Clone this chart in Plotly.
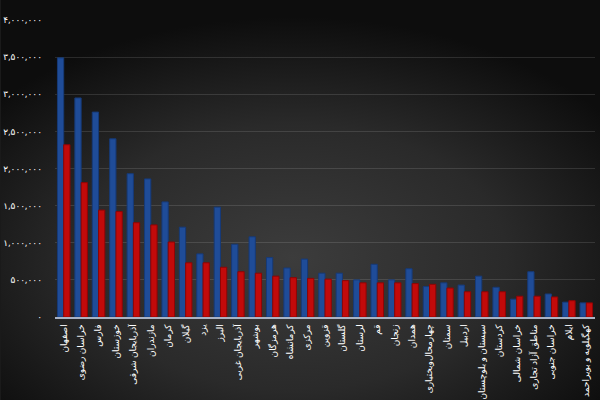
import base64
import plotly.graph_objects as go

categories = ["اصفهان", "خراسان رضوی", "فارس", "خوزستان", "آذربایجان شرقی", "مازندران",
              "کرمان", "گیلان", "یزد", "البرز", "آذربایجان غربی", "بوشهر", "هرمزگان",
              "کرمانشاه", "مرکزی", "قزوین", "گلستان", "لرستان", "قم", "زنجان", "همدان",
              "چهارمحال‌وبختیاری", "سمنان", "اردبیل", "سیستان و بلوچستان", "کردستان",
              "خراسان شمالی", "مناطق آزاد تجاری", "خراسان جنوبی", "ایلام", "کهگیلویه و بویراحمد"]

blue_values = [3490000, 2950000, 2760000, 2400000, 1930000, 1860000, 1550000, 1210000,
               850000, 1480000, 980000, 1080000, 800000, 660000, 780000, 590000, 590000,
               500000, 710000, 500000, 650000, 410000, 460000, 430000, 550000, 400000,
               240000, 610000, 310000, 200000, 190000]

red_values = [2320000, 1810000, 1440000, 1420000, 1270000, 1240000, 1010000, 730000,
              730000, 670000, 610000, 590000, 550000, 530000, 520000, 510000, 490000,
              460000, 460000, 460000, 450000, 440000, 390000, 340000, 340000, 340000,
              280000, 280000, 270000, 220000, 190000]

tick_vals = [0, 500000, 1000000, 1500000, 2000000, 2500000, 3000000, 3500000, 4000000]
tick_text = ["۰", "۵۰۰,۰۰۰", "۱,۰۰۰,۰۰۰", "۱,۵۰۰,۰۰۰", "۲,۰۰۰,۰۰۰", "۲,۵۰۰,۰۰۰",
             "۳,۰۰۰,۰۰۰", "۳,۵۰۰,۰۰۰", "۴,۰۰۰,۰۰۰"]

svg = """<svg xmlns='http://www.w3.org/2000/svg' width='600' height='400' preserveAspectRatio='none'>
<defs>
<radialGradient id='g' cx='0.45' cy='0.6' r='0.6' gradientTransform='translate(0.45 0.6) scale(1 0.9) translate(-0.45 -0.6)'>
<stop offset='0' stop-color='#3c3c3c'/>
<stop offset='0.55' stop-color='#2a2a2a'/>
<stop offset='1' stop-color='#0d0d0d'/>
</radialGradient>
</defs>
<rect width='600' height='400' fill='url(#g)'/>
</svg>"""
src = "data:image/svg+xml;base64," + base64.b64encode(svg.encode()).decode()

fig = go.Figure()
fig.add_trace(go.Bar(x=categories, y=blue_values, name="blue",
                     marker=dict(color="#1f4c98", line=dict(color="#163a78", width=1))))
fig.add_trace(go.Bar(x=categories, y=red_values, name="red",
                     marker=dict(color="#c20a0a", line=dict(color="#8e0505", width=1))))

fig.update_layout(
    width=600, height=400,
    margin=dict(l=55, r=5, t=20, b=83),
    paper_bgcolor="#1a1a1a",
    plot_bgcolor="rgba(0,0,0,0)",
    barmode="group", bargap=0.28, bargroupgap=0.0,
    showlegend=False,
    font=dict(family="Noto Sans, DejaVu Sans", color="white"),
    images=[dict(source=src, xref="paper", yref="paper", x=-0.1, y=1.1,
                 sizex=1.2, sizey=1.5, sizing="stretch", xanchor="left", yanchor="top",
                 layer="below")],
    xaxis=dict(tickangle=-90, tickfont=dict(size=9, color="white"),
               showline=True, linecolor="#a9b2c4", linewidth=1.5, automargin=False,
               showgrid=False, ticks="", ticklabelstandoff=2),
    yaxis=dict(range=[0, 4000000], tickvals=tick_vals, ticktext=tick_text,
               tickfont=dict(size=9, color="white"),
               showgrid=True, gridcolor="rgba(255,255,255,0.12)", gridwidth=1,
               zeroline=False, showline=False, ticks="", ticklabelstandoff=12,
               automargin=False),
)

fig.write_html("out.html")
